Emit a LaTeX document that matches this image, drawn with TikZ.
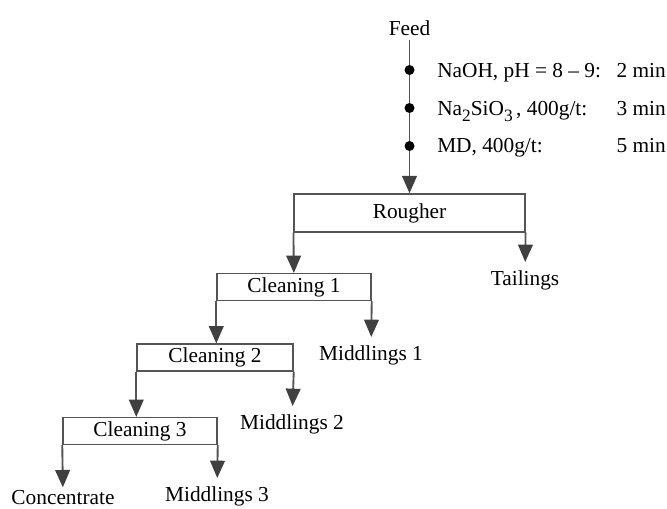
\documentclass[tikz,border=0pt]{standalone}
\usepackage{fontspec}
\setmainfont{Liberation Serif}
\usetikzlibrary{arrows.meta}
\definecolor{linegray}{HTML}{555555}
\definecolor{tipgray}{HTML}{404040}
\newcommand\chemsub[1]{\raisebox{-4.5pt}{\fontsize{13}{13}\selectfont #1}}
\tikzset{
  flow/.style={draw=linegray, line width=1.4pt,
    -{Triangle[length=13pt,width=11pt,color=tipgray]}},
  tolabel/.style={shorten >=6pt},
  stage/.style={draw=linegray, line width=1.1pt, minimum width=115.5pt,
    minimum height=20pt, inner sep=0pt},
  dosage/.style={circle, fill=black, inner sep=0pt, minimum size=7.5pt},
  product/.style={anchor=north, inner sep=0pt},
  reagent/.style={anchor=base west, inner sep=0pt},
  stime/.style={anchor=base east, inner sep=0pt}
}
\begin{document}
\begin{tikzpicture}[x=0.75pt,y=-0.75pt,font=\fontsize{16}{19}\selectfont]
  \useasboundingbox (0,0) rectangle (667,509);
  \draw
    (409.5,40) node[anchor=south] (feed) {Feed}
    (409.5,213) node[stage, minimum width=173pt, minimum height=28.5pt] (rougher) {Rougher}
    (294,287) node[stage] (c1) {Cleaning 1}
    (215,357.5) node[stage, minimum width=117pt] (c2) {Cleaning 2}
    (140,431) node[stage] (c3) {Cleaning 3};
  \draw
    (525,270) node[product] (tail) {Tailings}
    (371,345) node[product] (mid1) {Middlings 1}
    (292,414) node[product] (mid2) {Middlings 2}
    (217,486) node[product] (mid3) {Middlings 3}
    (63,490) node[product] (conc) {Concentrate};
  % reagents and conditioning times
  \node[reagent] (naoh) at (437,78) {NaOH, pH = 8 -- 9:};
  \node[reagent] (silicate) at (437,116) {Na\chemsub{2}SiO\chemsub{3}\,, 400g/t:};
  \node[reagent] (md) at (437,153) {MD, 400g/t:};
  \node[stime] (t1) at (666,78) {2 min};
  \node[stime] (t2) at (666,116) {3 min};
  \node[stime] (t3) at (666,153) {5 min};
  \begin{scope}[flow]
    \draw (feed) -- (rougher);
    \draw (rougher.south west) -- (c1);
    \draw[tolabel] (rougher.south east) -- (tail);
    \draw (c1.south west) -- (c1.south west |- c2.north);
    \draw[tolabel] (c1.south east) -- (mid1);
    \draw (c2.south west) -- (c2.south west |- c3.north);
    \draw[tolabel] (c2.south east) -- (mid2);
    \draw[shorten >=2pt] (c3.south west) -- (conc);
    \draw[tolabel] (c3.south east) -- (mid3);
  \end{scope}
  \draw
    (409.5,70) node[dosage] (d1) {}
    (409.5,108) node[dosage] (d2) {}
    (409.5,146) node[dosage] (d3) {};
\end{tikzpicture}
\end{document}
